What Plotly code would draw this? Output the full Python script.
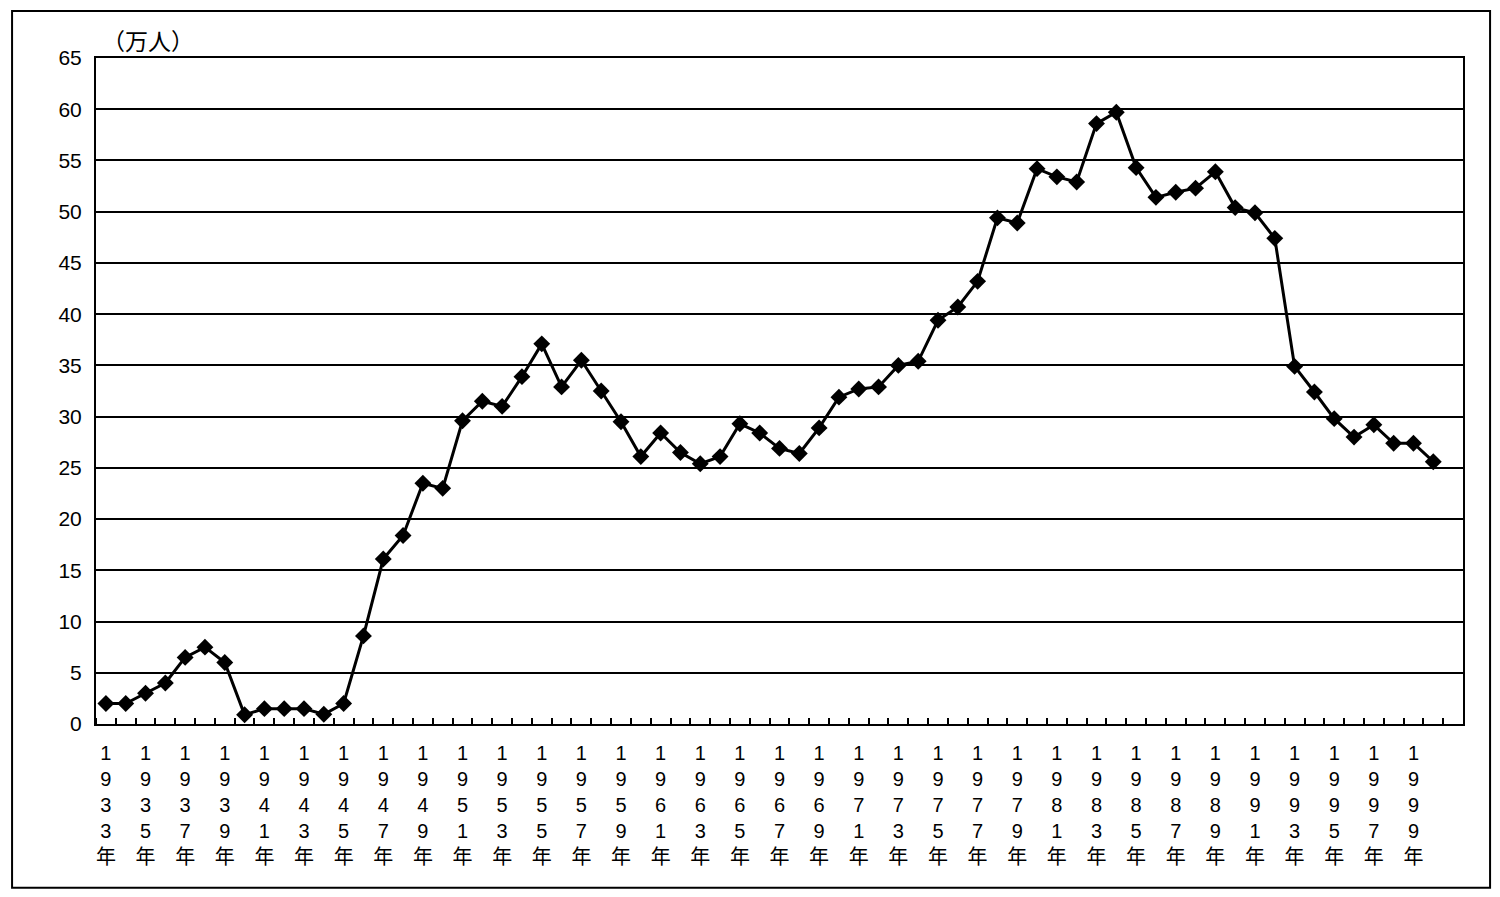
import plotly.graph_objects as go

years = list(range(1933, 2001))
values = [2.0, 2.0, 3.0, 4.0, 6.5, 7.5, 6.0, 0.9, 1.5, 1.5, 1.5, 0.95, 2.0, 8.6,
          16.1, 18.4, 23.5, 23.0, 29.6, 31.5, 31.0, 33.9, 37.1, 32.9, 35.5, 32.5,
          29.5, 26.1, 28.4, 26.5, 25.4, 26.1, 29.3, 28.4, 26.9, 26.4, 28.9, 31.9,
          32.7, 32.9, 35.0, 35.4, 39.4, 40.7, 43.2, 49.4, 48.9, 54.2, 53.4, 52.9,
          58.6, 59.7, 54.3, 51.4, 51.9, 52.3, 53.9, 50.4, 49.9, 47.4, 34.9, 32.4,
          29.8, 28.0, 29.2, 27.4, 27.4, 25.6]
label_years = list(range(1933, 2000, 2))
tick_labels = ["<br>".join(list(str(y))) + "<br>年" for y in label_years]
boundaries = [y + 0.5 for y in range(1932, 2001)]
y_ticks = list(range(0, 70, 5))
unit_label = "（万人）"

font_family = "Liberation Sans, Arial, Noto Sans CJK JP, sans-serif"

fig = go.Figure()
fig.add_trace(go.Scatter(
    x=years, y=values, mode="lines+markers",
    line=dict(color="black", width=3),
    marker=dict(symbol="diamond", size=13, color="black"),
    showlegend=False,
))

# The page body has an 8px margin, so the figure is shrunk and shifted to match.
fig.update_layout(
    width=1492, height=889,
    margin=dict(l=88, r=37, t=50, b=173),
    paper_bgcolor="white", plot_bgcolor="white",
    font=dict(family=font_family, color="black"),
    xaxis=dict(
        range=[1932.5, 2001.5],
        tickmode="array", tickvals=label_years, ticktext=tick_labels,
        ticks="", tickangle=0,
        tickfont=dict(size=20, family="Liberation Sans, Noto Sans CJK JP, sans-serif"),
        showgrid=False, zeroline=False,
        showline=True, linecolor="black", linewidth=2, mirror=True,
        ticklabelstandoff=10,
        minor=dict(tickmode="array", tickvals=boundaries, ticks="inside",
                   ticklen=6, tickcolor="black", tickwidth=1.5, showgrid=False),
    ),
    yaxis=dict(
        range=[0, 65], tickmode="array", tickvals=y_ticks,
        ticks="", tickfont=dict(size=21),
        showgrid=True, gridcolor="black", gridwidth=1.5,
        zeroline=False,
        showline=True, linecolor="black", linewidth=2, mirror=True,
        ticklabelstandoff=8,
    ),
)

fig.add_annotation(
    text=unit_label, xref="paper", yref="paper",
    x=0.003, y=1.027, xanchor="left", yanchor="middle",
    showarrow=False,
    font=dict(size=23, family="Noto Sans CJK JP, sans-serif", color="black"),
)

fig.add_shape(
    type="rect", xref="paper", yref="paper",
    x0=-0.0614, x1=1.0198, y0=-0.246, y1=1.0706,
    line=dict(color="black", width=2), fillcolor="rgba(0,0,0,0)",
)

fig.write_html("out.html")
